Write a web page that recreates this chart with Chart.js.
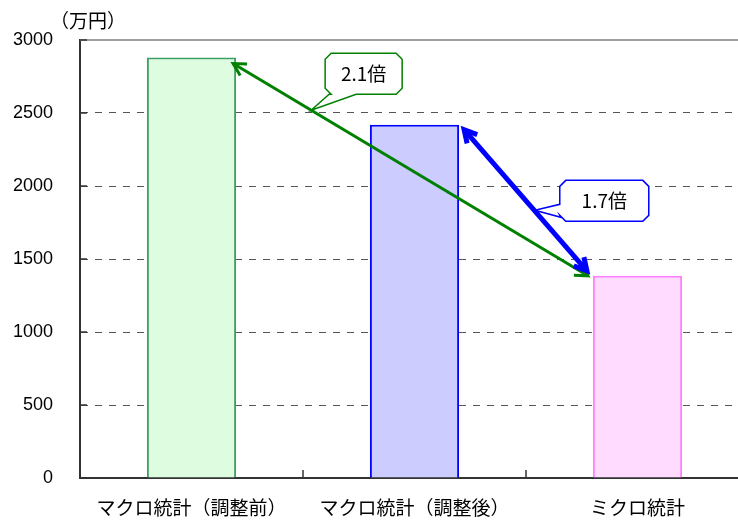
<!DOCTYPE html>
<html>
<head>
<meta charset="utf-8">
<script src="https://cdn.jsdelivr.net/npm/chart.js@4"></script>
<style>
  body { margin: 0; overflow: hidden; background: #fff; }
  #wrap { width: 760px; height: 521px; }
</style>
</head>
<body>
<div id="wrap"><canvas id="chart" width="760" height="521"></canvas></div>
<script>
// data
const categories = ['マクロ統計（調整前）', 'マクロ統計（調整後）', 'ミクロ統計'];
const values = [2880, 2420, 1385];
const yTicks = [0, 500, 1000, 1500, 2000, 2500, 3000];
const ratioLabels = ['2.1倍', '1.7倍'];
const unitLabel = '（万円）';

const fillColors = ['rgb(222,253,224)', 'rgb(204,204,255)', 'rgb(255,220,255)'];
const lineColors = ['rgb(60,160,100)', 'rgb(0,0,255)', 'rgb(255,128,255)'];

const JP = '"Noto Sans CJK JP", "Noto Sans", sans-serif';

function drawArrow(ctx, x1, y1, x2, y2, color, w, head) {
    const ang = Math.atan2(y2 - y1, x2 - x1);
    ctx.save();
    ctx.strokeStyle = color;
    ctx.lineWidth = w;
    ctx.lineCap = 'butt';
    ctx.lineJoin = 'miter';
    ctx.beginPath();
    ctx.moveTo(x1, y1);
    ctx.lineTo(x2, y2);
    ctx.stroke();
    // chevron heads on both ends
    [[x2, y2, ang], [x1, y1, ang + Math.PI]].forEach(([x, y, a]) => {
        ctx.beginPath();
        ctx.moveTo(x - head * Math.cos(a - 0.5), y - head * Math.sin(a - 0.5));
        ctx.lineTo(x, y);
        ctx.lineTo(x - head * Math.cos(a + 0.5), y - head * Math.sin(a + 0.5));
        ctx.stroke();
    });
    ctx.restore();
}

// callout box with chamfered corners and a tail to (tx, ty)
function drawCallout(ctx, bx, by, bw, bh, tx, ty, side, color, text) {
    const c = 6;
    const r = bx + bw, b = by + bh;
    ctx.save();
    ctx.beginPath();
    ctx.moveTo(bx + c, by);
    ctx.lineTo(r - c, by);
    ctx.lineTo(r, by + c);
    ctx.lineTo(r, b - c);
    ctx.lineTo(r - c, b);
    if (side === 'bottom') {
        ctx.lineTo(bx + 31, b);
        ctx.lineTo(tx, ty);
        ctx.lineTo(bx + 4, b);
        ctx.lineTo(bx + c, b);
        ctx.lineTo(bx, b - c);
        ctx.lineTo(bx, by + c);
    } else {
        ctx.lineTo(bx + c, b);
        ctx.lineTo(bx, b - c);
        ctx.lineTo(bx + 1, b - 4);
        ctx.lineTo(tx, ty);
        ctx.lineTo(bx, b - 17);
        ctx.lineTo(bx, by + c);
    }
    ctx.closePath();
    ctx.fillStyle = '#fff';
    ctx.fill();
    ctx.strokeStyle = color;
    ctx.lineWidth = 1.5;
    ctx.stroke();
    ctx.fillStyle = '#000';
    ctx.font = '19px ' + JP;
    ctx.textAlign = 'center';
    ctx.textBaseline = 'middle';
    ctx.fillText(text, bx + bw / 2, by + bh / 2);
    ctx.restore();
}

const extras = {
    id: 'extras',
    afterDraw(chart) {
        const ctx = chart.ctx;
        const area = chart.chartArea;
        const xs = chart.scales.x, ys = chart.scales.y;

        // top frame line
        ctx.save();
        ctx.strokeStyle = '#a0a0a0';
        ctx.lineWidth = 2;
        ctx.beginPath();
        ctx.moveTo(area.left, ys.getPixelForValue(3000));
        ctx.lineTo(area.right + 20, ys.getPixelForValue(3000));
        ctx.stroke();

        // inward tick marks
        ctx.strokeStyle = '#333';
        ctx.lineWidth = 1.5;
        yTicks.forEach(v => {
            const y = ys.getPixelForValue(v);
            ctx.beginPath();
            ctx.moveTo(area.left, y);
            ctx.lineTo(area.left + 7, y);
            ctx.stroke();
        });
        for (let i = 0; i <= categories.length; i++) {
            const x = xs.getPixelForValue(i - 0.5);
            ctx.beginPath();
            ctx.moveTo(x, area.bottom);
            ctx.lineTo(x, area.bottom - 8);
            ctx.stroke();
        }

        // unit label
        ctx.fillStyle = '#000';
        ctx.font = '19px ' + JP;
        ctx.textAlign = 'center';
        ctx.textBaseline = 'middle';
        ctx.fillText(unitLabel, area.left + 8, area.top - 19);
        ctx.restore();

        // arrows between bar tops
        const bars = chart.getDatasetMeta(0).data;
        const b1 = bars[0], b2 = bars[1], b3 = bars[2];
        const g1 = [b1.x + b1.width / 2 - 3, b1.y + 6];
        const g2 = [b3.x - b3.width / 2 - 5, b3.y];
        const u1 = [b2.x + b2.width / 2 + 5, b2.y + 5];
        const u2 = [b3.x - b3.width / 2 - 6, b3.y - 5];
        drawArrow(ctx, g1[0], g1[1], g2[0], g2[1], 'rgb(0,128,0)', 3, 14);
        drawArrow(ctx, u1[0], u1[1], u2[0], u2[1], 'rgb(0,0,255)', 5, 14);

        // callouts pointing at the arrows
        const gt = 0.22, ut = 0.6;
        const gx = g1[0] + (g2[0] - g1[0]) * gt, gy = g1[1] + (g2[1] - g1[1]) * gt;
        const ux = u1[0] + (u2[0] - u1[0]) * ut - 3, uy = u1[1] + (u2[1] - u1[1]) * ut - 4;
        drawCallout(ctx, gx + 14, gy - 57, 77, 41, gx, gy, 'bottom', 'rgb(0,128,0)', ratioLabels[0]);
        drawCallout(ctx, ux + 25, uy - 30, 89, 41, ux, uy, 'left', 'rgb(0,0,255)', ratioLabels[1]);
    }
};

new Chart(document.getElementById('chart'), {
    type: 'bar',
    data: {
        labels: categories,
        datasets: [{
            data: values,
            backgroundColor: fillColors,
            borderColor: lineColors,
            borderWidth: 2,
            barPercentage: 0.4,
            categoryPercentage: 1
        }]
    },
    options: {
        responsive: false,
        animation: false,
        devicePixelRatio: 1,
        layout: { padding: { top: 40, right: 11, left: 0, bottom: 0 } },
        plugins: { legend: { display: false }, tooltip: { enabled: false } },
        scales: {
            x: {
                afterFit: s => { s.height = 43; },
                grid: { display: false, drawTicks: false },
                border: { display: true, color: '#333', width: 2 },
                ticks: {
                    color: '#000',
                    padding: 18,
                    font: { family: JP, size: 19 },
                    maxRotation: 0
                }
            },
            y: {
                min: 0,
                max: 3000,
                afterFit: s => { s.width = 80; },
                afterBuildTicks: s => { s.ticks = yTicks.map(v => ({ value: v })); },
                grid: {
                    drawTicks: false,
                    lineWidth: 1,
                    color: c => (c.tick && (c.tick.value === 0 || c.tick.value === 3000)) ? 'rgba(0,0,0,0)' : '#555'
                },
                border: { display: true, color: '#333', width: 2, dash: [7, 7] },
                ticks: {
                    color: '#000',
                    padding: 27,
                    callback: v => String(v),
                    font: { family: '"Liberation Sans", Arial, sans-serif', size: 18 }
                }
            }
        }
    },
    plugins: [extras]
});
</script>
</body>
</html>
